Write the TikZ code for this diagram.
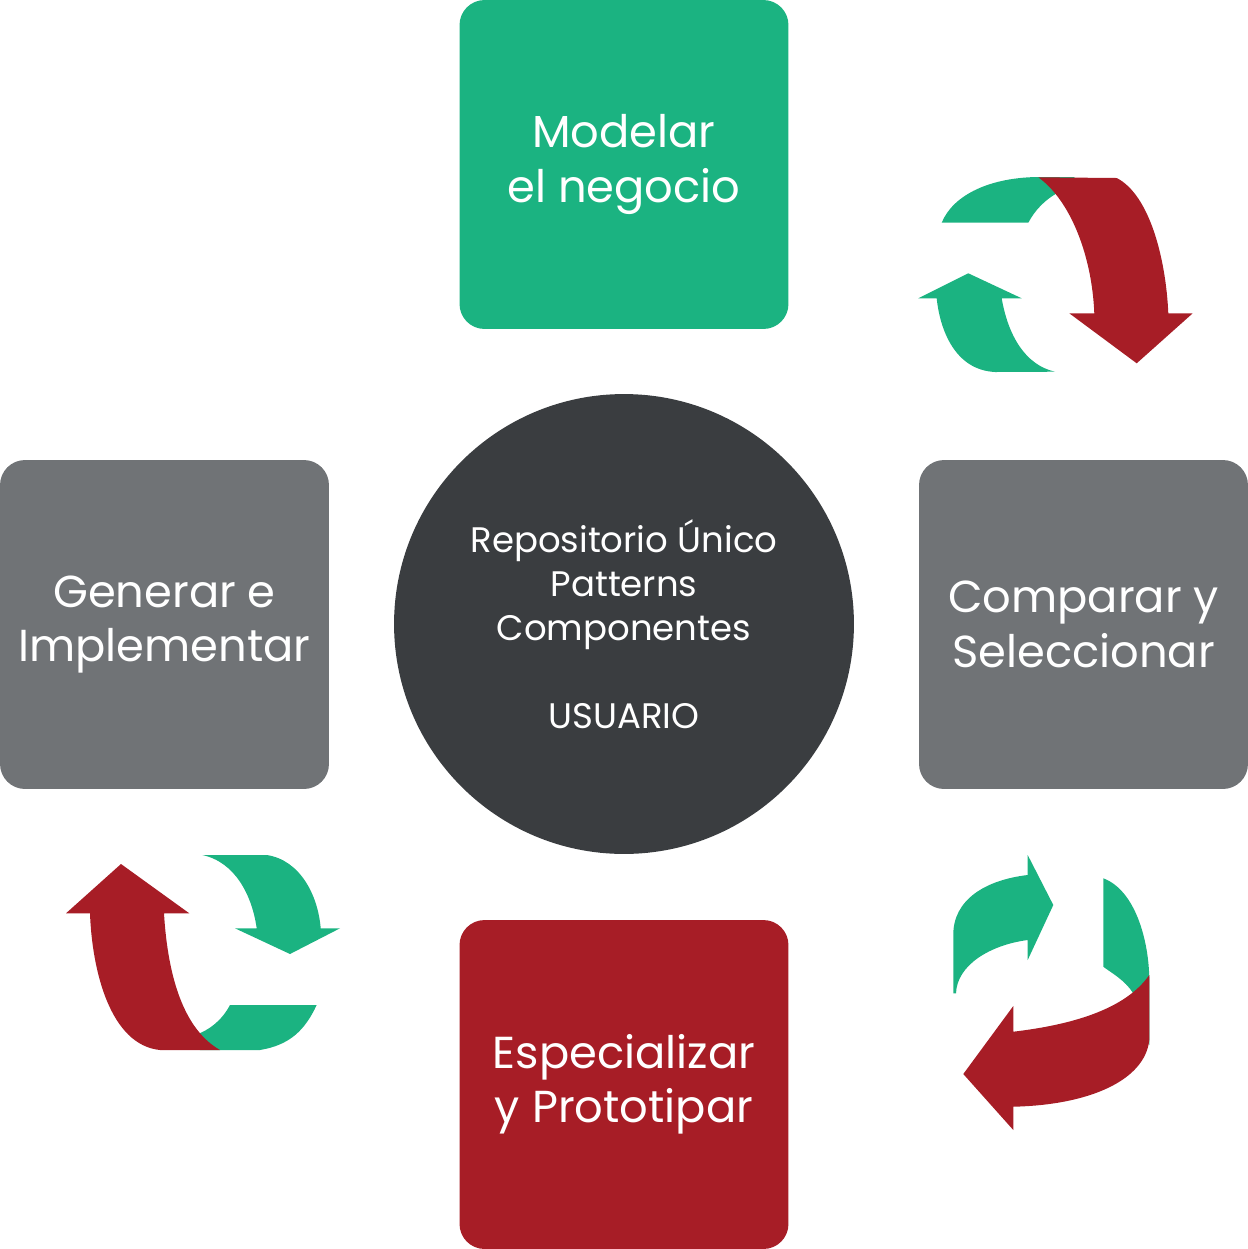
\documentclass[tikz,border=0pt]{standalone}
\usepackage{fontspec}
\setmainfont{Poppins}
\definecolor{verde}{HTML}{1BB381}
\definecolor{rojo}{HTML}{A71D26}
\definecolor{gris}{HTML}{707376}
\definecolor{oscuro}{HTML}{3A3D40}
\tikzset{
  caja/.style={rounded corners=0.5cm, minimum width=6.58cm, minimum height=6.58cm,
    inner sep=0pt, text=white, align=center, font=\fontsize{25.5}{31}\selectfont},
}
\begin{document}
\begin{tikzpicture}[x=0.02cm,y=-0.02cm]
		\useasboundingbox (0,0) rectangle (1248,1249);

		%boxes
		\node[caja, fill=verde] (mod) at (624,164.5) {Modelar\\el negocio};
		\node[caja, fill=gris] (gen) at (164.5,624.5) {Generar e\\Implementar};
		\node[caja, fill=gris] (comp) at (1083.5,624.5) {Comparar y\\Seleccionar};
		\node[caja, fill=rojo] (esp) at (624,1084.5) {Especializar\\y Prototipar};

		%center
		\node[circle, fill=oscuro, minimum size=9.2cm, inner sep=0pt, text=white, align=center,
			font=\fontsize{20.2}{25}\selectfont] (rep) at (624,624)
			{Repositorio Único\\Patterns\\Componentes\\[25pt]USUARIO};

		%upper right arrows
		\fill[verde] (941.7,222.7) .. controls (953,195) and (990,177) .. (1040,177) -- (1075,177)
			-- (1056.7,193.3) .. controls (1045,200) and (1035,210) .. (1028.3,222.7) -- cycle;
		\fill[rojo] (1038.3,177.3) -- (1116.7,178) .. controls (1150,195) and (1166,260) .. (1168.3,313.3)
			-- (1192.7,313.3) -- (1136.7,363.3) -- (1069.3,313.3) -- (1094.3,313.3)
			.. controls (1092,255) and (1070,200) .. (1038.3,177.3) -- cycle;
		\fill[verde] (918.3,298.3) -- (968.3,273.3) -- (1021.7,298.3) -- (1001.7,298.3)
			.. controls (1008,335) and (1025,365) .. (1055,371.7) -- (995,372)
			.. controls (955,370) and (940,330) .. (936.7,298.3) -- cycle;

		%lower right arrows
		\fill[verde] (1027.7,875) -- (1027.7,855) -- (1053.3,905) -- (1027.7,960) -- (1027.7,940)
			.. controls (990,945) and (957,965) .. (956,993.3) -- (953.3,993.3) -- (953.3,935)
			.. controls (953,900) and (985,880) .. (1027.7,875) -- cycle;
		\fill[verde] (1103.3,878.3) .. controls (1135,890) and (1149,940) .. (1149.3,980) -- (1149.3,1045)
			-- (1133,993) .. controls (1125,980) and (1110,972) .. (1103.3,966.7) -- cycle;
		\fill[rojo] (1149.3,975) -- (1149.3,1040) .. controls (1145,1080) and (1090,1105) .. (1013.3,1106.7)
			-- (1013.3,1130) -- (963.3,1074) -- (1013.3,1006) -- (1013.3,1031.7)
			.. controls (1070,1025) and (1125,1010) .. (1149.3,975) -- cycle;

		%lower left arrows
		\fill[verde] (316.7,1005) -- (230,1005) .. controls (222,1020) and (210,1030) .. (195,1035)
			-- (200,1050) -- (260,1050) .. controls (290,1045) and (305,1030) .. (316.7,1005) -- cycle;
		\fill[rojo] (90,913.3) -- (66,913.3) -- (121,864) -- (189.3,913.3) -- (164,913.3)
			.. controls (168,980) and (185,1030) .. (220,1050) -- (160,1050)
			.. controls (110,1045) and (92,970) .. (90,913.3) -- cycle;
		\fill[verde] (202.3,855) -- (266.7,855) .. controls (300,860) and (318,895) .. (320.7,928.3)
			-- (340,928.3) -- (290,954) -- (235,928.3) -- (256.7,928.3)
			.. controls (252,895) and (235,862) .. (202.3,855) -- cycle;
	\end{tikzpicture}
\end{document}
